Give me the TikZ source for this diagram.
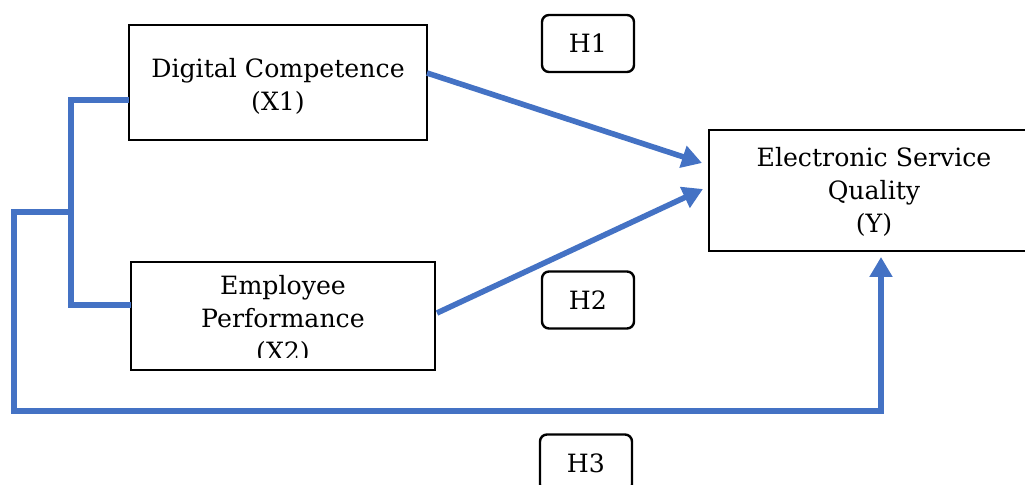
\documentclass[tikz,border=0pt]{standalone}
\usepackage{fontspec}
\setmainfont{DejaVu Serif}
\usetikzlibrary{arrows.meta}
\tikzset{
  box/.style={draw=black, line width=1.2pt, rectangle, inner sep=0pt},
  hbox/.style={draw=black, line width=1.2pt, rectangle, rounded corners=3.5pt, minimum width=46pt, minimum height=28.5pt, inner sep=0pt, font=\fontsize{12.6}{16}\selectfont},
  txt/.style={align=center, inner sep=0pt, font=\fontsize{12.6}{16.5}\selectfont},
  link/.style={draw=linkblue, line width=2.8pt},
  tip/.style={-{Triangle[length=10pt,width=11pt]}}
}
\definecolor{linkblue}{HTML}{4472C4}
\begin{document}
\begin{tikzpicture}[x=0.5pt,y=-0.5pt]
\clip (0,0) rectangle (1025,485);
% boxes
\node[box, minimum width=149pt, minimum height=57.5pt] (dc) at (278,82.5) {};
\node[txt] (dct) at (278,86.5) {Digital Competence\\(X1)};
\node[box, minimum width=152pt, minimum height=54pt] (ep) at (283,316) {};
\begin{scope}
  \clip (131,262) rectangle (435,358);
  \node[txt] (ept) at (283,320) {Employee\\Performance\\(X2)};
\end{scope}
\node[box, minimum width=165pt, minimum height=60.5pt] (esq) at (874,190.5) {};
\node[txt] (esqt) at (874,192) {Electronic Service\\Quality\\(Y)};
% hypothesis labels
\node[hbox] (h1) at (588,43.5) {H1};
\node[hbox] (h2) at (588,300) {H2};
\node[hbox] (h3) at (586,463) {H3};
% connector points
\coordinate (dcw) at (129,100);
\coordinate (epw) at (131,305);
\coordinate (b1) at (71,100);
\coordinate (b2) at (71,305);
\coordinate (bm) at (71,212);
\coordinate (l1) at (14,212);
\coordinate (l2) at (14,411);
\coordinate (r1) at (881,411);
\coordinate (yin) at (881,257);
\coordinate (dce) at (427,73);
\coordinate (epe) at (437,313);
\coordinate (y1) at (702,163);
\coordinate (y2) at (703,189);
% bracket
\draw[link] (dcw) -- (b1) -- (b2) -- (epw);
\draw[link, tip] (bm) -- (l1) -- (l2) -- (r1) -- (yin);
% arrows
\draw[link, tip] (dce) -- (y1);
\draw[link, tip] (epe) -- (y2);
\end{tikzpicture}
\end{document}
